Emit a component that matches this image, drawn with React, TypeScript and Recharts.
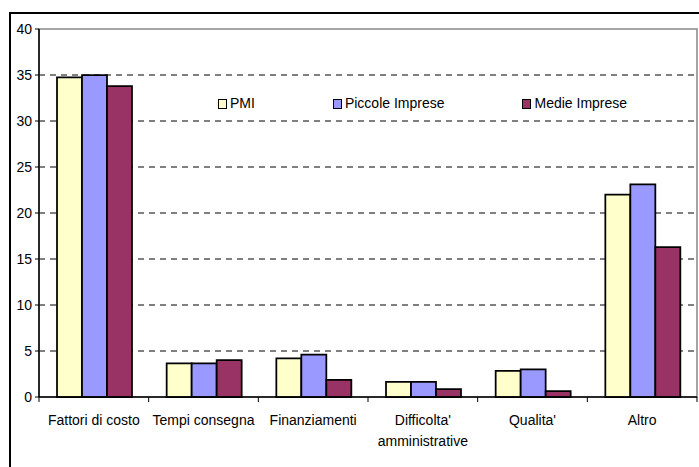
import React from "react";
import { BarChart, Bar, XAxis, YAxis, CartesianGrid, ReferenceArea } from "recharts";

const categories = [
  "Fattori di costo",
  "Tempi consegna",
  "Finanziamenti",
  "Difficolta' amministrative",
  "Qualita'",
  "Altro",
];
const pmi = [34.75, 3.65, 4.2, 1.65, 2.85, 22.0];
const piccole = [35.0, 3.65, 4.6, 1.65, 3.0, 23.1];
const medie = [33.8, 4.0, 1.85, 0.85, 0.65, 16.3];
const yTicks = [0, 5, 10, 15, 20, 25, 30, 35, 40];
const gridLines = [5, 10, 15, 20, 25, 30, 35];

const series = [
  { key: "pmi", name: "PMI", color: "#FFFFCC" },
  { key: "piccole", name: "Piccole Imprese", color: "#9999FF" },
  { key: "medie", name: "Medie Imprese", color: "#993366" },
];

const data = categories.map((name, i) => ({
  name,
  pmi: pmi[i],
  piccole: piccole[i],
  medie: medie[i],
}));

const FONT = '"Liberation Sans", Arial, sans-serif';

// label plus the boundary tick marks Excel puts between categories
const CategoryTick = (props: any) => {
  const { x, y, payload, index, visibleTicksCount } = props;
  const half = payload.offset ?? 0;
  const words: string[] = payload.value === "Difficolta' amministrative"
    ? ["Difficolta'", "amministrative"]
    : [payload.value];
  return (
    <g>
      <line x1={x - half} x2={x - half} y1={y - 8} y2={y - 3} stroke="#000" strokeWidth={1} />
      {index === visibleTicksCount - 1 && (
        <line x1={x + half} x2={x + half} y1={y - 8} y2={y - 3} stroke="#000" strokeWidth={1} />
      )}
      {words.map((w, i) => (
        <text
          key={w}
          x={x}
          y={y + 20 + i * 21}
          textAnchor="middle"
          fontSize={14}
          fontFamily={FONT}
          fill="#000"
        >
          {w}
        </text>
      ))}
    </g>
  );
};

const LegendBox = () => (
  <div
    style={{
      position: "absolute",
      left: 218,
      top: 95,
      display: "flex",
      gap: 78,
      fontFamily: FONT,
      fontSize: 14,
      lineHeight: "17px",
      whiteSpace: "nowrap",
    }}
  >
    {series.map((s) => (
      <div key={s.key} style={{ display: "flex", alignItems: "center" }}>
        <span
          style={{
            display: "inline-block",
            width: 7,
            height: 8,
            border: "1px solid #000",
            background: s.color,
            marginRight: 3,
          }}
        />
        <span>{s.name}</span>
      </div>
    ))}
  </div>
);

export default function App() {
  return (
    <div style={{ position: "absolute", left: 0, top: 0, width: 699, height: 467, overflow: "hidden", background: "#fff" }}>
      <div
        style={{
          position: "absolute",
          left: 9,
          top: 12,
          width: 720,
          height: 480,
          border: "2px solid #000",
        }}
      />
      <div style={{ position: "absolute", left: 0, top: 0 }}>
        <BarChart
          width={699}
          height={467}
          data={data}
          margin={{ top: 29, right: 2, bottom: 0, left: 0 }}
          barGap={0}
          barCategoryGap={18}
        >
          <CartesianGrid
            vertical={false}
            horizontalValues={gridLines}
            stroke="#000"
            strokeDasharray="6 5"
          />
          <ReferenceArea y1={0} y2={40} fill="none" stroke="#888" strokeWidth={1.5} />
          <XAxis
            dataKey="name"
            height={70}
            interval={0}
            axisLine={{ stroke: "#000", strokeWidth: 1.5 }}
            tickLine={false}
            tick={<CategoryTick />}
          />
          <YAxis
            width={39}
            domain={[0, 40]}
            ticks={yTicks}
            interval={0}
            axisLine={{ stroke: "#000", strokeWidth: 1.5 }}
            tickLine={{ stroke: "#000" }}
            tickSize={4}
            tickMargin={3}
            tick={{ fontSize: 14, fontFamily: FONT, fill: "#000" }}
          />
          {series.map((s) => (
            <Bar
              key={s.key}
              dataKey={s.key}
              name={s.name}
              fill={s.color}
              stroke="#000"
              strokeWidth={1.75}
              isAnimationActive={false}
            />
          ))}
        </BarChart>
      </div>
      <LegendBox />
    </div>
  );
}
